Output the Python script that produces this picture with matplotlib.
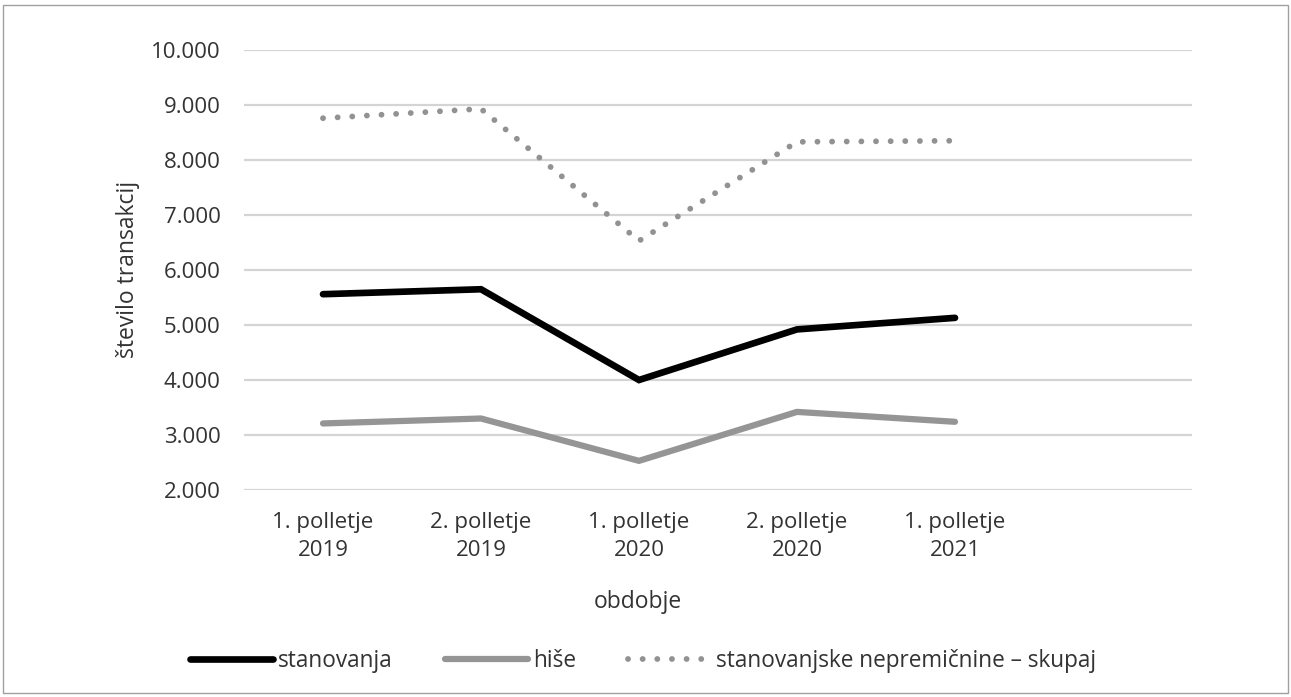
import matplotlib.pyplot as plt
from matplotlib.patches import Rectangle

# number of transactions per half-year
periods = ["1. polletje\n2019", "2. polletje\n2019", "1. polletje\n2020",
           "2. polletje\n2020", "1. polletje\n2021"]
stanovanja = [5560, 5650, 4000, 4920, 5130]
hise = [3210, 3300, 2530, 3420, 3240]
skupaj = [8760, 8930, 6530, 8330, 8350]
yticks = [2000, 3000, 4000, 5000, 6000, 7000, 8000, 9000, 10000]
ytick_labels = ["2.000", "3.000", "4.000", "5.000", "6.000", "7.000", "8.000",
                "9.000", "10.000"]

plt.rcParams['font.family'] = ['Open Sans', 'DejaVu Sans']
plt.rcParams['font.size'] = 16

W, H = 1291, 697
fig = plt.figure(figsize=(W / 100, H / 100), dpi=100)
ax = fig.add_axes([244 / W, 1 - 490 / H, (1192 - 244) / W, (490 - 50) / H])

x = list(range(len(periods)))
ax.plot(x, stanovanja, color="#000000", lw=4.8, solid_joinstyle="miter",
        solid_capstyle="round", label="stanovanja", zorder=3)
ax.plot(x, hise, color="#959595", lw=4.5, solid_joinstyle="miter",
        solid_capstyle="round", label="hiše", zorder=3)
ax.plot(x, skupaj, color="#929292", lw=4.2, linestyle=(0, (0.01, 2.5)),
        dash_capstyle="round", label="stanovanjske nepremičnine – skupaj", zorder=3)

# six category slots, the last one is left empty
ax.set_xlim(-0.5, 5.5)
ax.set_ylim(2000, 10000)
ax.set_yticks(yticks)
ax.set_yticklabels(ytick_labels)
ax.set_xticks(x)
ax.set_xticklabels(periods, linespacing=1.42)
ax.tick_params(axis="both", length=0, labelcolor="#333333")
ax.tick_params(axis="x", pad=16)
ax.tick_params(axis="y", pad=17)
ax.yaxis.grid(True, color="#d4d4d4", lw=1.6)
ax.set_axisbelow(True)
for s in ax.spines.values():
    s.set_visible(False)

fig.text(128 / W, 1 - 269 / H, "število transakcij", rotation=90,
         ha="center", va="center", color="#333333", fontsize=16.5)
fig.text(638 / W, 1 - 602 / H, "obdobje", ha="center", va="center",
         color="#333333", fontsize=16.5)

leg = fig.legend(loc="center", bbox_to_anchor=(643 / W, 1 - 661 / H), ncol=3,
                 frameon=False, handlelength=3.7, handletextpad=0.2,
                 columnspacing=2.3, prop={"size": 16.3})
for t in leg.get_texts():
    t.set_color("#333333")

fig.patches.append(Rectangle((3 / W, 4 / H), (W - 6) / W, (H - 9) / H,
                             transform=fig.transFigure, fill=False,
                             edgecolor="#a0a0a0", lw=1))

fig.savefig("out.png", dpi=100)
